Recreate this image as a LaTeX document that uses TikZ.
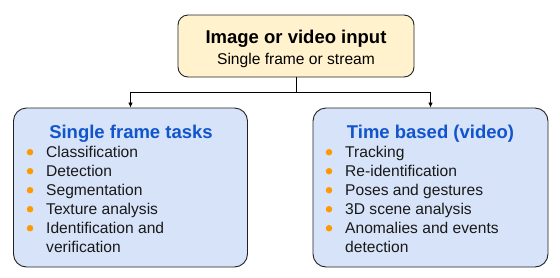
\documentclass[tikz,border=0pt]{standalone}
\usepackage{fontspec}
\setmainfont{Liberation Sans}
\usetikzlibrary{arrows.meta}
\definecolor{topfill}{HTML}{FFF2CC}
\definecolor{boxfill}{HTML}{D7E3F8}
\definecolor{titleblue}{HTML}{1155CC}
\definecolor{bulletorange}{HTML}{FF9900}
\definecolor{edgecol}{HTML}{222222}
\tikzset{
  inbox/.style={draw=edgecol, line width=0.9pt, fill=topfill, rounded corners=10pt, inner sep=0pt},
  taskbox/.style={draw=edgecol, line width=0.9pt, fill=boxfill, rounded corners=13pt, inner sep=0pt},
  bigtitle/.style={inner sep=0pt, anchor=base, font=\fontsize{18.5}{21}\selectfont\bfseries},
  bluetitle/.style={bigtitle, text=titleblue},
  subtext/.style={inner sep=0pt, anchor=base, font=\fontsize{15.6}{19}\selectfont},
  itemtext/.style={inner sep=0pt, anchor=base west, font=\fontsize{15.6}{19}\selectfont, text=black!90},
  bulletdot/.style={circle, fill=bulletorange, inner sep=0pt, minimum size=6.5pt},
  conn/.style={draw=black, line width=0.8pt},
  arrowtip/.style={-{Latex[length=5pt,width=4.5pt]}}
}
\begin{document}
\begin{tikzpicture}[x=1pt,y=-1pt]
\useasboundingbox (0,0) rectangle (560,277);
% top box
\node[inbox, minimum width=236pt, minimum height=62pt] (top) at (296,46) {};
\node[bigtitle] (toptitle) at (296,43) {Image or video input};
\node[subtext] (topsub) at (296,64) {Single frame or stream};
% lower boxes
\node[taskbox, minimum width=234pt, minimum height=159pt] (left) at (130.5,187.5) {};
\node[taskbox, minimum width=235pt, minimum height=159pt] (right) at (430.5,187.5) {};
% connectors
\coordinate (j) at (296,92);
\draw[conn] (top.south) -- (j);
\draw[conn, arrowtip] (j) -| (left.north);
\draw[conn, arrowtip] (j) -| (right.north);
% left contents
\node[bluetitle] (ltitle) at (131,138) {Single frame tasks};
\foreach \name/\y/\txt in {l1/157/Classification, l2/176/Detection, l3/195/Segmentation, l4/214/Texture analysis, l5/233/Identification and}{
  \node[bulletdot] (\name b) at (30,\y-4.8) {};
  \node[itemtext] (\name) at (46,\y) {\txt};
}
\node[itemtext] (l5b2) at (46,252) {verification};
% right contents
\node[bluetitle] (rtitle) at (430.5,138) {Time based (video)};
\foreach \name/\y/\txt in {r1/157/Tracking, r2/176/Re-identification, r3/195/Poses and gestures, r4/214/3D scene analysis, r5/233/Anomalies and events}{
  \node[bulletdot] (\name b) at (329,\y-4.8) {};
  \node[itemtext] (\name) at (345,\y) {\txt};
}
\node[itemtext] (r5b2) at (345,252) {detection};
\end{tikzpicture}
\end{document}
